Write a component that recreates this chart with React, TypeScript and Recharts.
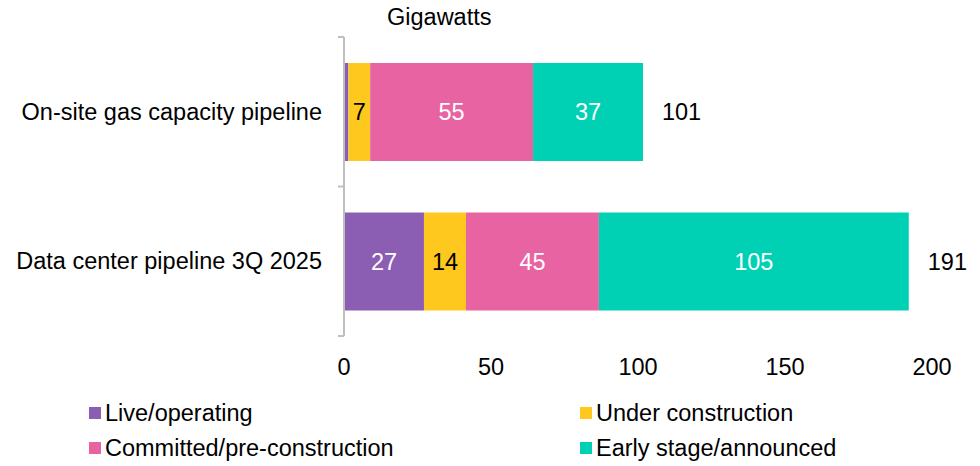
import { BarChart, Bar, XAxis, YAxis, LabelList } from "recharts";

const categories = ["On-site gas capacity pipeline", "Data center pipeline 3Q 2025"];
const live = [1.5, 27.2];
const underConstruction = [7.4, 14.3];
const committed = [55.4, 45.2];
const early = [37.4, 105.4];
const totals = [101, 191];
const xTicks = [0, 50, 100, 150, 200];

const data = categories.map((name, i) => ({
  name,
  live: live[i],
  under: underConstruction[i],
  committed: committed[i],
  early: early[i],
  total: totals[i],
}));

const FONT = "'Liberation Sans', Arial, sans-serif";
const FS = 23.5;
const COLORS = {
  live: "#8B5DB3",
  under: "#FFC81E",
  committed: "#E863A2",
  early: "#00D1B5",
};

const legendItems = [
  { label: "Live/operating", color: COLORS.live, left: 89, top: 399 },
  { label: "Under construction", color: COLORS.under, left: 580, top: 399 },
  { label: "Committed/pre-construction", color: COLORS.committed, left: 89, top: 434 },
  { label: "Early stage/announced", color: COLORS.early, left: 580, top: 434 },
];

const CategoryTick = (props: any) => {
  const { x, y, payload, index } = props;
  const half = payload?.offset || 74.75;
  return (
    <g>
      <text x={x - 22} y={y} textAnchor="end" dominantBaseline="central" fontSize={FS} fill="#000" fontFamily={FONT}>
        {payload.value}
      </text>
      <line x1={x - 6} x2={x} y1={y - half} y2={y - half} stroke="#bfbfbf" strokeWidth={2} />
      {index === categories.length - 1 && (
        <line x1={x - 6} x2={x} y1={y + half} y2={y + half} stroke="#bfbfbf" strokeWidth={2} />
      )}
    </g>
  );
};

const inner = (fill: string) => (props: any) => {
  const { x, y, width, height, value } = props;
  if (value < 3) return null;
  return (
    <text x={x + width / 2} y={y + height / 2} textAnchor="middle" dominantBaseline="central" fontSize={FS} fill={fill} fontFamily={FONT}>
      {Math.round(value)}
    </text>
  );
};

const TotalLabel = (props: any) => {
  const { x, y, width, height, value } = props;
  return (
    <text x={x + width + 19} y={y + height / 2} textAnchor="start" dominantBaseline="central" fontSize={FS} fill="#000" fontFamily={FONT}>
      {value}
    </text>
  );
};

export default function App() {
  return (
    <div style={{ position: "absolute", left: 0, top: 0, width: 980, height: 466, background: "#fff", fontFamily: FONT }}>
      <BarChart
        width={980}
        height={466}
        data={data}
        layout="vertical"
        margin={{ top: 37, right: 48, bottom: 100, left: 0 }}
        barSize={98}
      >
        <XAxis
          type="number"
          domain={[0, 200]}
          ticks={xTicks}
          axisLine={false}
          tickLine={false}
          tickSize={0}
          tickMargin={22}
          height={30}
          tick={{ fontSize: FS, fill: "#000", fontFamily: FONT }}
          interval={0}
        />
        <YAxis
          type="category"
          dataKey="name"
          width={344}
          axisLine={{ stroke: "#bfbfbf", strokeWidth: 2 }}
          tickLine={false}
          tickSize={0}
          tickMargin={0}
          tick={<CategoryTick />}
          interval={0}
        />
        <Bar dataKey="live" stackId="a" fill={COLORS.live} isAnimationActive={false}>
          <LabelList dataKey="live" content={inner("#fff")} />
        </Bar>
        <Bar dataKey="under" stackId="a" fill={COLORS.under} isAnimationActive={false}>
          <LabelList dataKey="under" content={inner("#000")} />
        </Bar>
        <Bar dataKey="committed" stackId="a" fill={COLORS.committed} isAnimationActive={false}>
          <LabelList dataKey="committed" content={inner("#fff")} />
        </Bar>
        <Bar dataKey="early" stackId="a" fill={COLORS.early} isAnimationActive={false}>
          <LabelList dataKey="early" content={inner("#fff")} />
          <LabelList dataKey="total" content={TotalLabel} />
        </Bar>
      </BarChart>
      <div style={{ position: "absolute", left: 387, top: 4, fontSize: FS, color: "#000" }}>Gigawatts</div>
      {legendItems.map((it) => (
        <div key={it.label} style={{ position: "absolute", left: it.left, top: it.top, display: "flex", alignItems: "center", fontSize: FS, color: "#000", lineHeight: "28px" }}>
          <span style={{ display: "inline-block", width: 12, height: 12, background: it.color, marginRight: 4 }} />
          {it.label}
        </div>
      ))}
    </div>
  );
}
